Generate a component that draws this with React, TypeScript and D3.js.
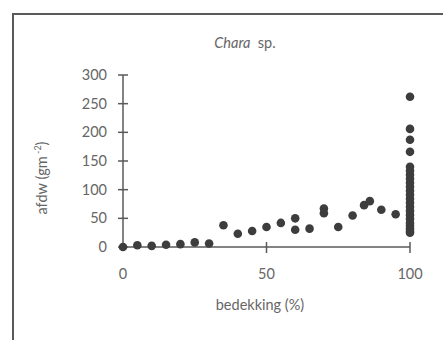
import { useEffect, useRef } from 'react'
import * as d3 from 'd3'

// bedekking (%) and afdw (g m-2)
const coverage = [
  0, 5, 10, 15, 20, 25, 30, 35, 40, 45, 50, 55, 60, 60, 65, 70, 70, 75, 80, 84, 86, 90, 95,
  100, 100, 100, 100, 100, 100, 100, 100, 100, 100, 100, 100, 100, 100, 100, 100, 100, 100, 100, 100, 100, 100, 100,
]
const afdw = [
  0, 3, 2, 4, 5, 8, 6, 38, 23, 28, 35, 42, 50, 30, 32, 67, 59, 35, 55, 73, 80, 65, 57,
  262, 206, 187, 166, 140, 133, 126, 119, 112, 105, 98, 91, 84, 77, 70, 63, 56, 49, 42, 37, 32, 28, 25,
]
const xTicks = [0, 50, 100]
const yTicks = [0, 50, 100, 150, 200, 250, 300]

const INK = '#5a5a5a'
const TXT = '#666'
const DOT = '#3d3d3d'
const FONT = 'Lato, "Open Sans", sans-serif'
const FS = 14.5

export default function App() {
  const svgRef = useRef<SVGSVGElement>(null)

  useEffect(() => {
    if (!svgRef.current) return
    const svg = d3.select(svgRef.current)
    svg.selectAll('*').remove()

    const x = d3.scaleLinear().domain([0, 100]).range([123, 410])
    const y = d3.scaleLinear().domain([0, 300]).range([247, 75])

    // frame (top and left edges only)
    svg.append('path')
      .attr('d', 'M13,340 L13,14 L443,14')
      .attr('fill', 'none')
      .attr('stroke', INK)
      .attr('stroke-width', 2)

    // title
    svg.append('text')
      .attr('x', 245)
      .attr('y', 48)
      .attr('text-anchor', 'middle')
      .attr('font-style', 'italic')
      .attr('font-size', FS)
      .attr('fill', TXT)
      .text('Chara')
      .append('tspan')
      .attr('font-style', 'normal')
      .text('\u00a0\u00a0sp.')

    // y axis
    svg.append('line')
      .attr('x1', x(0)).attr('x2', x(0))
      .attr('y1', y(300)).attr('y2', y(0))
      .attr('stroke', INK).attr('stroke-width', 1.5)
    yTicks.forEach(t => {
      svg.append('line')
        .attr('x1', x(0) - 5).attr('x2', x(0) + 5)
        .attr('y1', y(t)).attr('y2', y(t))
        .attr('stroke', INK).attr('stroke-width', 1.5)
      svg.append('text')
        .attr('x', 107)
        .attr('y', y(t) + 5)
        .attr('text-anchor', 'end')
        .attr('font-size', FS)
        .attr('fill', TXT)
        .text(t)
    })

    // x axis
    svg.append('line')
      .attr('x1', x(0)).attr('x2', x(100))
      .attr('y1', y(0)).attr('y2', y(0))
      .attr('stroke', INK).attr('stroke-width', 1.5)
    xTicks.forEach(t => {
      if (t > 0) {
        svg.append('line')
          .attr('x1', x(t)).attr('x2', x(t))
          .attr('y1', y(0) - 5).attr('y2', y(0) + 6)
          .attr('stroke', INK).attr('stroke-width', 1.5)
      }
      svg.append('text')
        .attr('x', x(t))
        .attr('y', 279)
        .attr('text-anchor', 'middle')
        .attr('font-size', FS)
        .attr('fill', TXT)
        .text(t)
    })

    // axis titles
    svg.append('text')
      .attr('x', 260)
      .attr('y', 310)
      .attr('text-anchor', 'middle')
      .attr('font-size', FS)
      .attr('fill', TXT)
      .text('bedekking (%)')

    const yl = svg.append('text')
      .attr('transform', 'translate(47,178) rotate(-90)')
      .attr('text-anchor', 'middle')
      .attr('font-size', FS)
      .attr('fill', TXT)
      .text('afdw (gm')
    yl.append('tspan').attr('font-size', 9).attr('dy', -6).text(' -2')
    yl.append('tspan').attr('dy', 6).text(')')

    // points
    svg.append('g')
      .selectAll('circle')
      .data(coverage.map((c, i) => [c, afdw[i]]))
      .join('circle')
      .attr('cx', d => x(d[0]))
      .attr('cy', d => y(d[1]))
      .attr('r', 4.3)
      .attr('fill', DOT)
  }, [])

  return (
    <svg
      ref={svgRef}
      width={443}
      height={340}
      style={{ position: 'absolute', left: 0, top: 0, background: '#fff', fontFamily: FONT }}
    />
  )
}
